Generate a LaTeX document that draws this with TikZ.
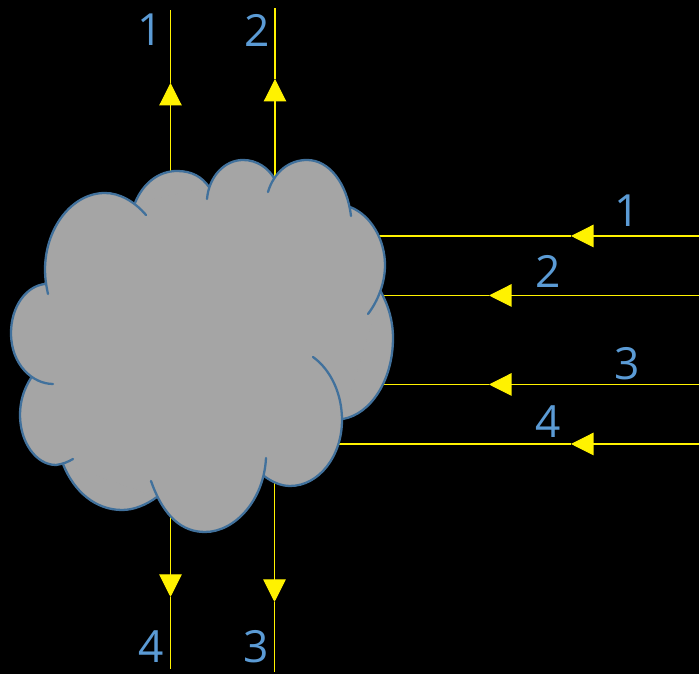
\documentclass[tikz,border=0pt]{standalone}
\usepackage{fontspec}
\setmainfont{Open Sans}
\usepackage{xcolor}
\usetikzlibrary{arrows.meta}

\definecolor{cloudfill}{HTML}{A5A5A5}
\definecolor{cloudline}{HTML}{41719C}
\definecolor{labelblue}{HTML}{5B9BD5}

\tikzset{
  wire/.style={draw=yellow, line width=0.3pt},
  wiretip/.style={wire, -{Triangle[length=0.225cm, width=0.225cm, fill=yellow]}},
  lobe/.style={draw=cloudline, line width=0.65pt, line cap=round},
  lobefill/.style={fill=cloudfill, draw=cloudfill, line width=0.3pt},
  rayno/.style={text=labelblue, font=\fontsize{12.6}{14}\selectfont, inner sep=0pt}
}

% cloud lobes
\def\lobeA{(48,294) .. controls (46,285) and (45,277) .. (45,270) .. controls (45,228) and (72,193) .. (105,193) .. controls (120,193) and (135,202) .. (146,215)}
\def\lobeB{(135,203) .. controls (143,183) and (159,171) .. (177,171) .. controls (192,171) and (202,177) .. (209,187)}
\def\lobeC{(207,199) .. controls (209,176) and (225,160) .. (243,160) .. controls (257,160) and (268,168) .. (274,178)}
\def\lobeD{(268,192) .. controls (274,172) and (289,160) .. (307,160) .. controls (329,160) and (347,183) .. (351,216)}
\def\lobeE{(350,207) .. controls (371,215) and (385,240) .. (385,265) .. controls (385,283) and (378,301) .. (368,314)}
\def\lobeF{(381,292) .. controls (389,307) and (393,322) .. (393,338) .. controls (393,380) and (371,414) .. (343,419)}
\def\lobeG{(313,357) .. controls (331,370) and (342,394) .. (342,420) .. controls (342,456) and (319,486) .. (290,486) .. controls (281,486) and (272,482) .. (264,476)}
\def\lobeH{(266,458) .. controls (264,500) and (235,532) .. (205,532) .. controls (183,532) and (164,518) .. (151,481)}
\def\lobeI{(157,497) .. controls (146,505) and (134,510) .. (122,510) .. controls (96,510) and (74,492) .. (63,464)}
\def\lobeJ{(73,459) .. controls (68,462) and (63,464) .. (56,465) .. controls (36,465) and (20,442) .. (20,415) .. controls (20,401) and (24,389) .. (31,378)}
\def\lobeK{(53,384) .. controls (33,384) and (11,365) .. (11,333) .. controls (11,307) and (26,286) .. (45,284)}

\begin{document}
\begin{tikzpicture}[x=0.01cm, y=-0.01cm]
\useasboundingbox (0,0) rectangle (699,674);
\fill[black] (0,0) rectangle (699,674);

% rays going out, top
\coordinate (topA) at (170.5,10);
\coordinate (topAtip) at (170.5,83);
\coordinate (topAcloud) at (170.5,175);
\coordinate (topB) at (275,8);
\coordinate (topBtip) at (275,79);
\coordinate (topBcloud) at (275,180);
\draw[wiretip] (topAcloud) -- (topAtip);
\draw[wire] (topAtip) -- (topA);
\draw[wiretip] (topBcloud) -- (topBtip);
\draw[wire] (topBtip) -- (topB);

% rays going out, bottom
\coordinate (botA) at (170.5,669);
\coordinate (botAtip) at (170.5,597);
\coordinate (botAcloud) at (170.5,505);
\coordinate (botB) at (274.5,672);
\coordinate (botBtip) at (274.5,602);
\coordinate (botBcloud) at (274.5,475);
\draw[wiretip] (botAcloud) -- (botAtip);
\draw[wire] (botAtip) -- (botA);
\draw[wiretip] (botBcloud) -- (botBtip);
\draw[wire] (botBtip) -- (botB);

% rays coming in, right
\coordinate (inA) at (699,236);
\coordinate (inAtip) at (571,236);
\coordinate (inAcloud) at (375,236);
\coordinate (inB) at (699,295.5);
\coordinate (inBtip) at (489,295.5);
\coordinate (inBcloud) at (375,295.5);
\coordinate (inC) at (699,384.5);
\coordinate (inCtip) at (489,384.5);
\coordinate (inCcloud) at (375,384.5);
\coordinate (inD) at (699,444);
\coordinate (inDtip) at (571,444);
\coordinate (inDcloud) at (335,444);
\draw[wiretip] (inA) -- (inAtip);
\draw[wire] (inAtip) -- (inAcloud);
\draw[wiretip] (inB) -- (inBtip);
\draw[wire] (inBtip) -- (inBcloud);
\draw[wiretip] (inC) -- (inCtip);
\draw[wire] (inCtip) -- (inCcloud);
\draw[wiretip] (inD) -- (inDtip);
\draw[wire] (inDtip) -- (inDcloud);

% cloud: fills first, outlines on top
\path[lobefill] (48,294) -- (135,203) -- (209,187) -- (274,178) -- (350,207) -- (381,292) -- (343,419) -- (264,476) -- (157,497) -- (63,464) -- (31,378) -- (45,284) -- cycle;
\foreach \lb in {\lobeA,\lobeB,\lobeC,\lobeD,\lobeE,\lobeF,\lobeG,\lobeH,\lobeI,\lobeJ,\lobeK}
  \path[lobefill] \lb -- cycle;
\foreach \lb in {\lobeA,\lobeB,\lobeC,\lobeD,\lobeE,\lobeF,\lobeG,\lobeH,\lobeI,\lobeJ,\lobeK}
  \draw[lobe] \lb;

\node[rayno] (labTopA) at (150.5,30) {1};
\node[rayno] (labTopB) at (257.5,30) {2};
\node[rayno] (labInA) at (627,211) {1};
\node[rayno] (labInB) at (548,271) {2};
\node[rayno] (labInC) at (627,364) {3};
\node[rayno] (labInD) at (548,422) {4};
\node[rayno] (labBotA) at (151,647) {4};
\node[rayno] (labBotB) at (256.5,647) {3};
\end{tikzpicture}
\end{document}
